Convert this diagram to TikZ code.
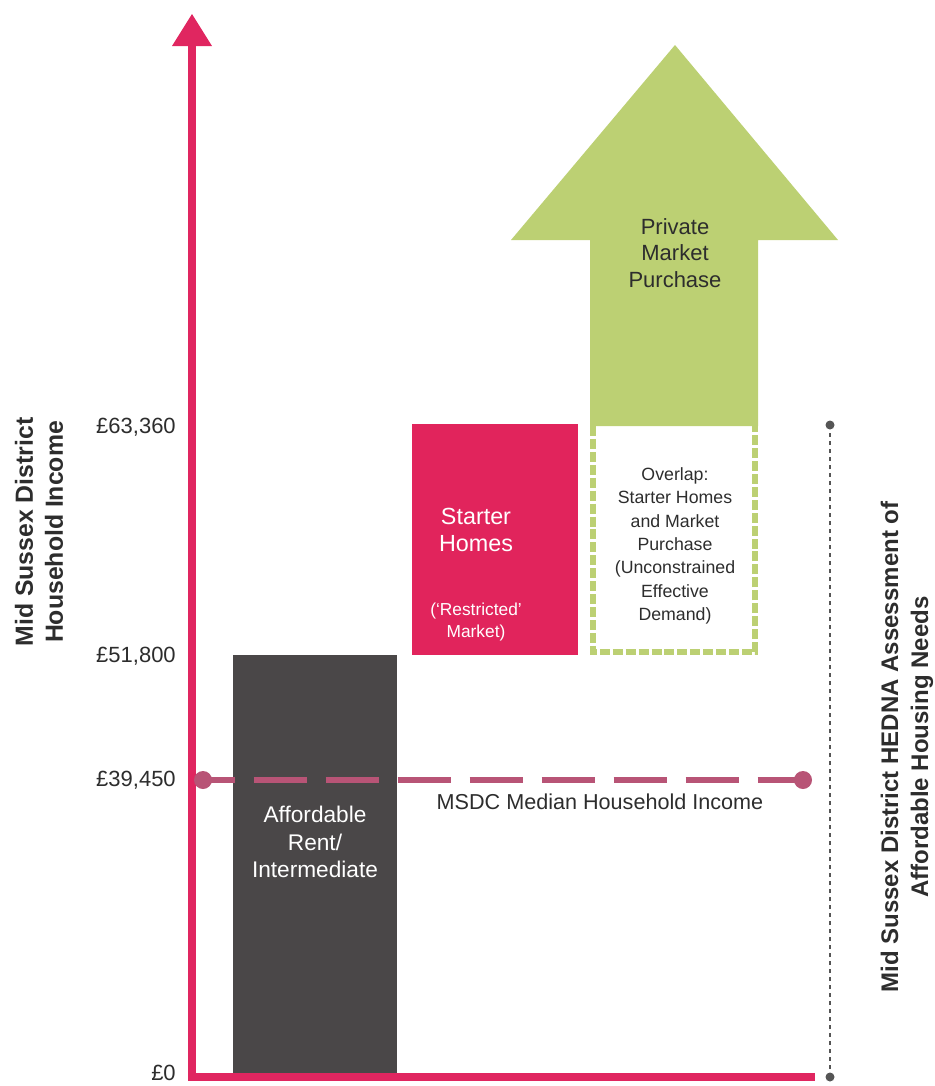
\documentclass[tikz,border=0pt]{standalone}
\usepackage{fontspec}
\setmainfont{Liberation Sans}
\begin{document}
\begin{tikzpicture}[x=0.75pt,y=-0.75pt]
\definecolor{axiscol}{RGB}{224,38,96}
\definecolor{darkbox}{RGB}{74,71,72}
\definecolor{starter}{RGB}{225,36,92}
\definecolor{greenc}{RGB}{188,208,115}
\definecolor{median}{RGB}{184,84,118}
\definecolor{txt}{RGB}{45,45,45}
\definecolor{dotgray}{RGB}{85,85,85}
\tikzset{
  ticklab/.style={anchor=east,text=txt,font=\fontsize{16.5}{19}\selectfont,inner sep=0pt},
  boxlab/.style={align=center,font=\fontsize{17}{20.5}\selectfont,inner sep=0pt},
  axtitle/.style={align=center,rotate=90,font=\bfseries\fontsize{18.6}{22.5}\selectfont,text=txt,inner sep=0pt},
}
\useasboundingbox (0,0) rectangle (935,1086);
% green arrow
\fill[greenc] (590,426) -- (590,240) -- (511,240) -- (675,45) -- (838,240) -- (758,240) -- (758,426) -- cycle;
\draw[greenc,line width=4.5pt,dash pattern=on 7.5pt off 2.2pt] (593,426) -- (593,652) -- (755,652) -- (755,426);
\node[boxlab,text=txt,font=\fontsize{16.5}{20}\selectfont] (pmp) at (675,253) {Private\\Market\\Purchase};
% overlap text
\node[align=center,font=\fontsize{13.3}{17.5}\selectfont,text=txt,inner sep=0pt] (ovl) at (675,546) {Overlap:\\Starter Homes\\and Market\\Purchase\\(Unconstrained\\Effective\\Demand)};
% starter homes
\fill[starter] (412,424) rectangle (578,655);
\node[boxlab,text=white,font=\fontsize{17.5}{20}\selectfont] (sh) at (476,530) {Starter\\Homes};
\node[align=center,font=\fontsize{13}{17}\selectfont,text=white,inner sep=0pt] (rm) at (476,622) {(`Restricted'\\Market)};
% affordable
\fill[darkbox] (233,655) rectangle (397,1077);
\node[boxlab,text=white] (aff) at (315,842) {Affordable\\Rent/\\Intermediate};
% axes
\coordinate (orig) at (192,1077);
\coordinate (ytop) at (192,40);
\coordinate (xend) at (815,1077);
\draw[axiscol,line width=6pt] (ytop) -- (orig) -- (xend);
\fill[axiscol] (192,14) -- (212,46) -- (172,46) -- cycle;
% median line
\coordinate (m1) at (203,780);
\coordinate (m2) at (803,780);
\fill[median] (m1) circle (9);
\fill[median] (m2) circle (9);
\draw[median,line width=4.5pt,dash pattern=on 40pt off 14pt,dash phase=16pt] (m1) -- (m2);
\node[text=txt,font=\fontsize{16.2}{19}\selectfont,inner sep=0pt] (medlab) at (600,802) {MSDC Median Household Income};
% dotted line
\coordinate (d1) at (830,425);
\coordinate (d2) at (830,1077);
\draw[dotgray,line width=1.5pt,dash pattern=on 3pt off 3pt] (d1) -- (d2);
\fill[dotgray] (d1) circle (4.5);
\fill[dotgray] (d2) circle (4.5);
% tick labels
\node[ticklab] (t1) at (176,427) {£63,360};
\node[ticklab] (t2) at (176,656) {£51,800};
\node[ticklab] (t3) at (176,780) {£39,450};
\node[ticklab] (t4) at (176,1073) {£0};
% axis titles
\node[axtitle] (yt) at (39,532) {Mid Sussex District\\Household Income};
\node[axtitle,font=\bfseries\fontsize{18}{22.5}\selectfont] (rt) at (907,747) {Mid Sussex District HEDNA Assessment of\\Affordable Housing Needs};
\end{tikzpicture}
\end{document}
